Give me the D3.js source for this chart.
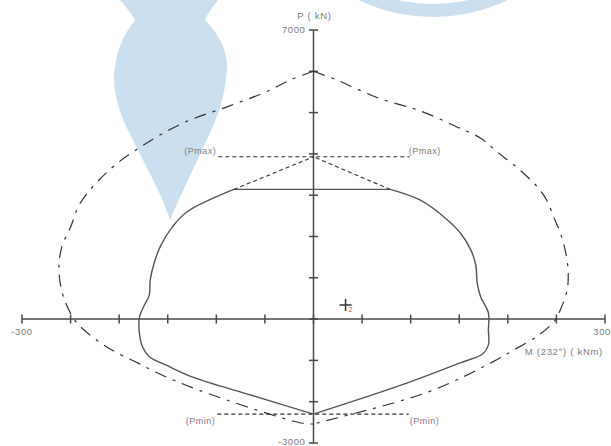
<!DOCTYPE html>
<html>
<head>
<meta charset="utf-8">
<script src="https://cdn.jsdelivr.net/npm/d3@7"></script>
<style>
  html, body { margin: 0; padding: 0; background: #fff; }
  svg { display: block; }
  text { font-family: "Liberation Sans", Arial, sans-serif; fill: #7d7d7d; }
</style>
</head>
<body>
<svg id="chart" width="611" height="446"></svg>
<script>
// Axis ranges and tick values
const mDomain = [-300, 300];
const pDomain = [-3000, 7000];
const mTicks = d3.range(-300, 301, 50);
const pTicks = d3.range(-3000, 7001, 1000);
const mEndLabels = ["-300", "300"];
const pEndLabels = ["7000", "-3000"];

// Nominal interaction curve (M in kNm, P in kN), left and right halves, top to bottom
const nominalLeft = [
  [0, 6000], [-24, 5790], [-48, 5510], [-89, 5140], [-134, 4750], [-178, 4170],
  [-212, 3570], [-240, 2810], [-250, 2230], [-259, 1750], [-262, 1260],
  [-260, 780], [-255, 390], [-248, 60], [-240, -180], [-219, -580],
  [-202, -820], [-181, -1060], [-161, -1300], [-118, -1720], [-13, -2515], [0, -2540]
];
const nominalRight = [
  [0, 6000], [24, 5790], [67, 5350], [110, 5040], [146, 4670], [172, 4380],
  [189, 4050], [210, 3660], [230, 3210], [240, 2880], [247, 2480], [254, 2090],
  [259, 1670], [262, 1190], [261, 700], [254, 220], [249, -20], [232, -385],
  [206, -750], [185, -1030], [118, -1765], [4, -2515], [0, -2540]
];

// Design interaction curve, flat cap plus left and right branches down to Pmin
const designLeft = [
  [-82, 3140], [-130, 2600], [-145, 2240], [-157, 1790], [-164, 1360],
  [-168, 950], [-169, 580], [-174, 340], [-179, 60], [-179.5, -260],
  [-176, -670], [-169, -910], [-152, -1110], [-125, -1400], [-63, -1850], [0, -2300]
];
const designRight = [
  [79, 3140], [110, 2880], [134, 2480], [151, 2090], [162, 1670], [167, 1310],
  [168.5, 870], [172, 540], [180, 150], [180, -260], [180, -630], [174, -845],
  [151, -1060], [90, -1600], [0, -2300]
];

// Limits and load point
const pMax = 3930;
const pMin = -2300;
const pMaxSpan = [-98, 99];
const pMinSpan = [-99, 98];
const loadPoint = { m: 33, p: 340, id: "2" };

const svg = d3.select("#chart");
const x = d3.scaleLinear().domain(mDomain).range([22, 605]);
const y = d3.scaleLinear().domain(pDomain).range([443, 30]);

// Faint background emblem
const emblem = svg.append("g").attr("fill", "#cbdfee");
emblem.append("path").attr("d",
  "M120,0 L218,0 C212,8 207,14 205,20 C218,34 227,48 227,67 C226,90 220,112 210,133 " +
  "C200,155 185,185 170,220 C160,190 150,175 143,160 C133,140 122,120 118,105 " +
  "C114,90 113,75 115,67 C118,45 126,32 135,20 C132,14 126,7 120,0 Z");
emblem.append("path")
  .attr("fill-rule", "evenodd")
  .attr("d", (() => {
    const cx = 433, cy = -155, r1 = 172, r2 = 159;
    return `M${cx - r1},${cy} a${r1},${r1} 0 1,0 ${2 * r1},0 a${r1},${r1} 0 1,0 ${-2 * r1},0 Z ` +
           `M${cx - r2},${cy} a${r2},${r2} 0 1,0 ${2 * r2},0 a${r2},${r2} 0 1,0 ${-2 * r2},0 Z`;
  })());

// Axes
const axisColor = "#4a4a4a";
const axes = svg.append("g").attr("stroke", axisColor).attr("stroke-width", 1.5);
axes.append("line").attr("x1", x(mDomain[0])).attr("x2", x(mDomain[1]))
  .attr("y1", y(0)).attr("y2", y(0));
axes.append("line").attr("x1", x(0)).attr("x2", x(0))
  .attr("y1", y(pDomain[0])).attr("y2", y(pDomain[1]));
axes.selectAll(".mt").data(mTicks).join("line")
  .attr("x1", d => x(d)).attr("x2", d => x(d))
  .attr("y1", y(0) - 4.5).attr("y2", y(0) + 4.5);
axes.selectAll(".pt").data(pTicks).join("line")
  .attr("x1", x(0) - 4.5).attr("x2", x(0) + 4.5)
  .attr("y1", d => y(d)).attr("y2", d => y(d));

// Axis labels
const fs = 9.5;
svg.append("text").attr("x", x(mDomain[0])).attr("y", y(0) + 16)
  .attr("text-anchor", "middle").attr("font-size", fs).attr("letter-spacing", 0.6).text(mEndLabels[0]);
svg.append("text").attr("x", 611).attr("y", y(0) + 16)
  .attr("text-anchor", "end").attr("font-size", fs).attr("letter-spacing", 0.6).text(mEndLabels[1]);
svg.append("text").attr("x", x(0) - 8).attr("y", y(pDomain[1]) + 3)
  .attr("text-anchor", "end").attr("font-size", fs).attr("letter-spacing", 0.6).text(pEndLabels[0]);
svg.append("text").attr("x", x(0) - 8).attr("y", y(pDomain[0]) + 2)
  .attr("text-anchor", "end").attr("font-size", fs).attr("letter-spacing", 0.6).text(pEndLabels[1]);
svg.append("text").attr("x", x(0) + 1).attr("y", 19)
  .attr("text-anchor", "middle").attr("font-size", fs).attr("letter-spacing", 0.7).text("P ( kN)");
svg.append("text").attr("x", x(300) - 2).attr("y", y(0) + 36)
  .attr("text-anchor", "end").attr("font-size", fs).attr("letter-spacing", 0.7).text("M (232°) ( kNm)");

const line = d3.line().x(d => x(d[0])).y(d => y(d[1]));
const smooth = d3.line().x(d => x(d[0])).y(d => y(d[1])).curve(d3.curveCatmullRom.alpha(0.5));

// Nominal curve (dash-dot)
[nominalLeft, nominalRight].forEach(pts => {
  svg.append("path").attr("d", smooth(pts))
    .attr("fill", "none").attr("stroke", "#333").attr("stroke-width", 1.2)
    .attr("stroke-dasharray", "12,7,3,7");
});

// Design curve (solid)
svg.append("path").attr("d", line([designLeft[0], designRight[0]]))
  .attr("fill", "none").attr("stroke", "#555").attr("stroke-width", 1.4);
[designLeft, designRight].forEach(pts => {
  svg.append("path").attr("d", smooth(pts))
    .attr("fill", "none").attr("stroke", "#555").attr("stroke-width", 1.4);
});

// Pmax / Pmin limit lines
const dotted = { stroke: "#333", width: 1.1, dash: "4,3" };
function dash(pts) {
  svg.append("path").attr("d", line(pts)).attr("fill", "none")
    .attr("stroke", dotted.stroke).attr("stroke-width", dotted.width)
    .attr("stroke-dasharray", dotted.dash);
}
dash([[pMaxSpan[0], pMax], [pMaxSpan[1], pMax]]);
dash([[pMinSpan[0], pMin], [pMinSpan[1], pMin]]);
dash([designLeft[0], [0, pMax]]);
dash([designRight[0], [0, pMax]]);

const lfs = 9;
svg.append("text").attr("x", x(pMaxSpan[0]) - 2).attr("y", y(pMax) - 3)
  .attr("text-anchor", "end").attr("font-size", lfs).attr("letter-spacing", 0.5).text("(Pmax)");
svg.append("text").attr("x", x(pMaxSpan[1]) - 1).attr("y", y(pMax) - 3)
  .attr("text-anchor", "start").attr("font-size", lfs).attr("letter-spacing", 0.5).text("(Pmax)");
svg.append("text").attr("x", x(pMinSpan[0]) - 2).attr("y", y(pMin) + 10)
  .attr("text-anchor", "end").attr("font-size", lfs).attr("letter-spacing", 0.5).text("(Pmin)");
svg.append("text").attr("x", x(pMinSpan[1]) + 1).attr("y", y(pMin) + 10)
  .attr("text-anchor", "start").attr("font-size", lfs).attr("letter-spacing", 0.5).text("(Pmin)");

// Load point
const lx = x(loadPoint.m), ly = y(loadPoint.p);
svg.append("path").attr("d", `M${lx - 6},${ly}H${lx + 6}M${lx},${ly - 6}V${ly + 6}`)
  .attr("stroke", "#333").attr("stroke-width", 1.5).attr("fill", "none");
svg.append("text").attr("x", lx + 3).attr("y", ly + 7).attr("font-size", 7.5)
  .style("fill", "#f05a4a").text(loadPoint.id);
</script>
</body>
</html>
